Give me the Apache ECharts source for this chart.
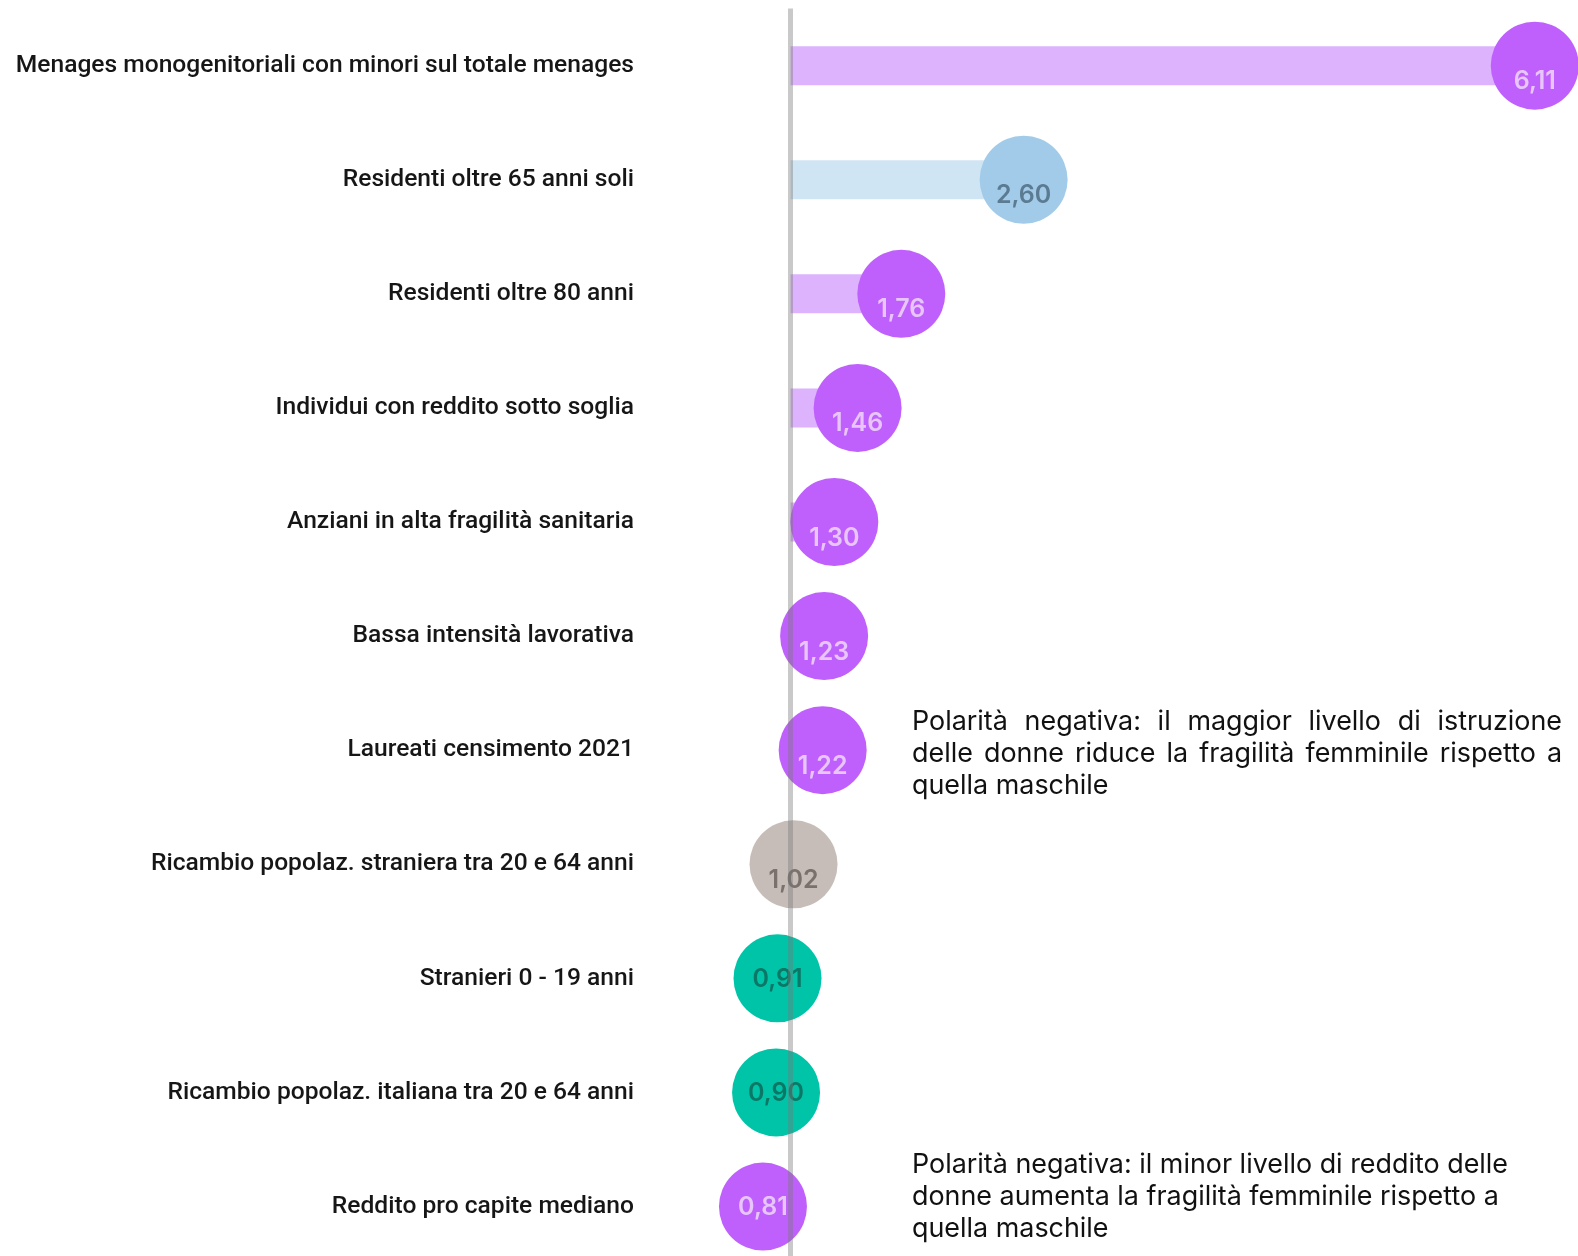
<!DOCTYPE html>
<html>
<head>
<meta charset="utf-8">
<script src="https://cdn.jsdelivr.net/npm/echarts@6/dist/echarts.min.js"></script>
<style>
html,body{margin:0;padding:0;background:#ffffff;}
#chart{width:1578px;height:1256px;}
</style>
</head>
<body>
<div id="chart"></div>
<script>
// ---- data ----
const categories = [
  'Menages monogenitoriali con minori sul totale menages',
  'Residenti oltre 65 anni soli',
  'Residenti oltre 80 anni',
  'Individui con reddito sotto soglia',
  'Anziani in alta fragilità sanitaria',
  'Bassa intensità lavorativa',
  'Laureati censimento 2021',
  'Ricambio popolaz. straniera tra 20 e 64 anni',
  'Stranieri 0 - 19 anni',
  'Ricambio popolaz. italiana tra 20 e 64 anni',
  'Reddito pro capite mediano'
];
const values = [6.11, 2.60, 1.76, 1.46, 1.30, 1.23, 1.22, 1.02, 0.91, 0.90, 0.81];
const groups = ['viola', 'azzurro', 'viola', 'viola', 'viola', 'viola', 'viola', 'grigio', 'verde', 'verde', 'viola'];
const referenceValue = 1;
const note1Lines = [
  'Polarità negativa: il maggior livello di istruzione',
  'delle donne riduce la fragilità femminile rispetto a',
  'quella maschile'
];
const note2Lines = [
  'Polarità negativa: il minor livello di reddito delle',
  'donne aumenta la fragilità femminile rispetto a',
  'quella maschile'
];

// ---- styles ----
const palette = {
  viola:   { bar: '#ddb3fe', dot: '#bf60fc', label: '#e8c6fb' },
  azzurro: { bar: '#d0e5f3', dot: '#a1cbe8', label: '#5b7b92' },
  grigio:  { bar: '#e0dad8', dot: '#c6bdb9', label: '#7a706c' },
  verde:   { bar: '#9ee9dd', dot: '#00c4a8', label: '#0b7766' }
};

const noteFontSize = 26.9;
const noteFontFamily = 'Inter';
const measureCtx = document.createElement('canvas').getContext('2d');
measureCtx.font = noteFontSize + 'px ' + noteFontFamily;

function textEl(str, x, y) {
  return {
    type: 'text', x: x, y: y, silent: true,
    style: { text: str, fill: '#111111', fontSize: noteFontSize, fontFamily: noteFontFamily, verticalAlign: 'middle', align: 'left' }
  };
}
function justifiedLine(line, x, y, width) {
  const words = line.split(' ');
  const widths = words.map(w => measureCtx.measureText(w).width);
  const total = widths.reduce((a, b) => a + b, 0);
  const gap = (width - total) / (words.length - 1);
  const els = [];
  let cx = x;
  words.forEach((w, i) => { els.push(textEl(w, cx, y)); cx += widths[i] + gap; });
  return els;
}

const graphics = [];
const noteLeft = 912, noteWidth = 650, lineH = 32.2;
note1Lines.forEach((l, i) => {
  const y = 721.8 + i * lineH;
  if (i < note1Lines.length - 1) graphics.push(...justifiedLine(l, noteLeft, y, noteWidth));
  else graphics.push(textEl(l, noteLeft, y));
});
note2Lines.forEach((l, i) => {
  graphics.push(textEl(l, noteLeft, 1164.6 + i * lineH));
});

const chart = echarts.init(document.getElementById('chart'), null, { renderer: 'canvas' });
chart.setOption({
  backgroundColor: '#ffffff',
  animation: false,
  grid: { left: 645, right: 1, top: 8.6, height: 1255, containLabel: false, outerBoundsMode: 'none' },
  xAxis: {
    type: 'value', min: 0, max: 6.4,
    show: false
  },
  yAxis: {
    type: 'category', inverse: true, data: categories,
    axisLine: { show: false }, axisTick: { show: false }, splitLine: { show: false },
    axisLabel: { color: '#161616', fontSize: 24.6, fontWeight: 500, fontFamily: 'Roboto', margin: 11 }
  },
  graphic: graphics,
  series: [
    {
      type: 'custom',
      z: 1,
      silent: true,
      encode: { x: 0, y: 1 },
      data: values.map((v, i) => [v, i]),
      renderItem: function (params, api) {
        const v = api.value(0);
        const idx = api.value(1);
        if (v <= referenceValue) return null;
        const s = api.coord([referenceValue, idx]);
        const e = api.coord([v, idx]);
        const h = 39;
        return {
          type: 'rect',
          shape: { x: s[0], y: s[1] - h / 2, width: e[0] - s[0], height: h },
          style: { fill: palette[groups[idx]].bar }
        };
      }
    },
    {
      type: 'scatter',
      z: 2,
      silent: true,
      symbol: 'circle',
      symbolSize: 88,
      data: values.map((v, i) => ({
        value: [v, i],
        itemStyle: { color: palette[groups[i]].dot, opacity: 1 },
        label: { color: palette[groups[i]].label, offset: [0, v > referenceValue ? 16 : 1] }
      })),
      label: {
        show: true, position: 'inside',
        fontSize: 25, fontWeight: 600, fontFamily: 'Inter',
        formatter: p => p.value[0].toFixed(2).replace('.', ',')
      },
      emphasis: { disabled: true },
      markLine: {
        silent: true, symbol: 'none', animation: false,
        label: { show: false },
        lineStyle: { color: 'rgba(120,120,120,0.4)', width: 5, type: 'solid' },
        emphasis: { disabled: true },
        data: [{ xAxis: referenceValue }]
      }
    }
  ]
});
</script>
</body>
</html>
